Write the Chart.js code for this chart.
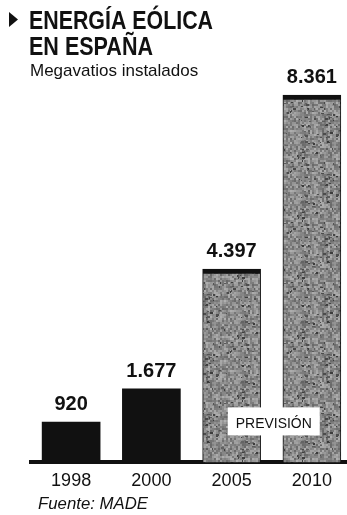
<!DOCTYPE html>
<html lang="es">
<head>
<meta charset="utf-8">
<title>Energía eólica en España</title>
<script src="https://cdn.jsdelivr.net/npm/chart.js@4.4.1/dist/chart.umd.min.js"></script>
<style>
  html, body { margin: 0; padding: 0; background: #fff; overflow: hidden; }
  #wrap { position: relative; width: 360px; height: 515px; }
  canvas { display: block; }
</style>
</head>
<body>
<div id="wrap"><canvas id="chart" width="360" height="515"></canvas></div>
<script>
// Megavatios eólicos instalados en España
const years = ['1998', '2000', '2005', '2010'];
const megawatts = [920, 1677, 4397, 8361];
const isForecast = [false, false, true, true];

const titleLines = ['ENERGÍA EÓLICA', 'EN ESPAÑA'];
const subtitle = 'Megavatios instalados';
const forecastLabel = 'PREVISIÓN';
const sourceText = 'Fuente: MADE';

const FONT = "'Liberation Sans', Arial, Helvetica, sans-serif";
const INK = '#111';

// Spanish thousands separator, also for four-digit numbers
function formatEs(v) {
  return String(v).replace(/\B(?=(\d{3})+(?!\d))/g, '.');
}

// Newsprint-like grey grain used for the forecast bars
function makeGrain(ctx) {
  const size = 60;
  const c = document.createElement('canvas');
  c.width = c.height = size;
  const g = c.getContext('2d');
  let seed = 20100;
  const next = () => {
    seed = (seed * 1103515245 + 12345) & 0x7fffffff;
    return seed / 0x7fffffff;
  };
  g.fillStyle = '#858585';
  g.fillRect(0, 0, size, size);
  // soft mottling in 2px cells
  for (let y = 0; y < size; y += 2) {
    for (let x = 0; x < size; x += 2) {
      const v = Math.round(105 + next() * 70);
      g.fillStyle = `rgb(${v},${v},${v})`;
      g.fillRect(x, y, 2, 2);
    }
  }
  // darker flecks
  for (let k = 0; k < 90; k++) {
    const v = Math.round(55 + next() * 45);
    g.fillStyle = `rgb(${v},${v},${v})`;
    g.fillRect(Math.floor(next() * size), Math.floor(next() * size), 1 + Math.floor(next() * 3), 1 + Math.floor(next() * 2));
  }
  return ctx.createPattern(c, 'repeat');
}

const canvas = document.getElementById('chart');
const ctx = canvas.getContext('2d');
const grain = makeGrain(ctx);

// Heading, subtitle, source line and the forecast tag
const decorations = {
  id: 'decorations',
  afterDraw(chart) {
    const c = chart.ctx;
    c.save();
    c.fillStyle = INK;
    c.textAlign = 'left';
    c.textBaseline = 'alphabetic';

    // arrow bullet
    c.beginPath();
    c.moveTo(9, 12);
    c.lineTo(9, 27);
    c.lineTo(18, 19.5);
    c.closePath();
    c.fill();

    c.font = `bold 25px ${FONT}`;
    c.fillText(titleLines[0], 29, 29, 184);
    c.fillText(titleLines[1], 29, 55, 124);

    c.font = `17px ${FONT}`;
    c.fillText(subtitle, 30, 76);

    c.font = `italic 17px ${FONT}`;
    c.fillText(sourceText, 38, 509, 110);

    // forecast tag straddling the two projected bars
    const xs = chart.scales.x;
    const area = chart.chartArea;
    const first = isForecast.indexOf(true);
    const cx = (xs.getPixelForValue(first) + xs.getPixelForValue(first + 1)) / 2 + 2;
    const boxW = 92, boxTop = area.bottom - 55, boxH = 28;
    c.fillStyle = '#fff';
    c.fillRect(cx - boxW / 2, boxTop, boxW, boxH);
    c.fillStyle = INK;
    c.font = `15px ${FONT}`;
    c.textAlign = 'center';
    c.fillText(forecastLabel, cx, boxTop + 21, 76);
    c.restore();
  }
};

// Value printed above every bar
const valueLabels = {
  id: 'valueLabels',
  afterDatasetsDraw(chart) {
    const c = chart.ctx;
    const meta = chart.getDatasetMeta(0);
    c.save();
    c.fillStyle = INK;
    c.font = `bold 20px ${FONT}`;
    c.textAlign = 'center';
    c.textBaseline = 'alphabetic';
    meta.data.forEach((bar, i) => {
      c.fillText(formatEs(megawatts[i]), bar.x, bar.y - 12);
    });
    c.restore();
  }
};

new Chart(ctx, {
  type: 'bar',
  data: {
    labels: years,
    datasets: [{
      data: megawatts,
      backgroundColor: isForecast.map(f => (f ? grain : INK)),
      borderColor: INK,
      borderWidth: isForecast.map(f => (f ? { top: 5, left: 1, right: 1, bottom: 0 } : 0)),
      borderSkipped: 'start',
      barThickness: 58
    }]
  },
  options: {
    responsive: false,
    animation: false,
    events: [],
    layout: { padding: { left: 31, right: 8, top: 23, bottom: 15 } },
    plugins: {
      legend: { display: false },
      tooltip: { enabled: false },
      title: { display: false }
    },
    scales: {
      y: { display: false, min: 0, max: 10000 },
      x: {
        grid: { display: false, drawTicks: false },
        border: { display: true, color: INK, width: 4 },
        ticks: {
          color: INK,
          padding: 8,
          font: { family: FONT, size: 18 }
        }
      }
    }
  },
  plugins: [valueLabels, decorations]
});
</script>
</body>
</html>
